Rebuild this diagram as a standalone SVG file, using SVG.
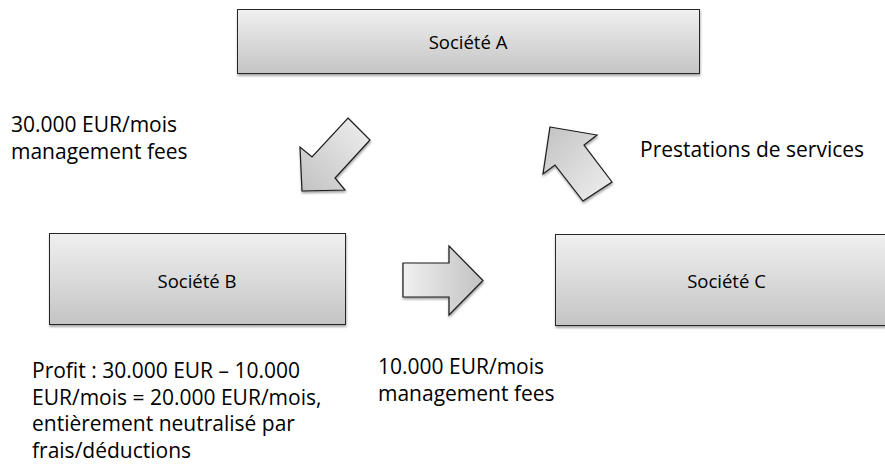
<svg xmlns="http://www.w3.org/2000/svg" width="885" height="469" viewBox="0 0 885 469">
<style>
  .box { fill: url(#boxGrad); stroke: #262626; stroke-width: 1; filter: url(#shadow); }
  .arrow { stroke: #1a1a1a; stroke-width: 1.2; stroke-linejoin: miter; filter: url(#shadow); }
  .boxText { font-family: "Open Sans", "Liberation Sans", sans-serif; font-size: 18.5px; fill: #000; text-anchor: middle; }
  .label { font-family: "Open Sans", "Liberation Sans", sans-serif; font-size: 21px; fill: #000; }
</style>
<defs>
  <linearGradient id="boxGrad" x1="0" y1="0" x2="0" y2="1">
    <stop offset="0" stop-color="#f0f0f0"/>
    <stop offset="1" stop-color="#c4c4c4"/>
  </linearGradient>
  <linearGradient id="gradDL" x1="1" y1="0" x2="0" y2="1">
    <stop offset="0" stop-color="#f0f0f0"/>
    <stop offset="1" stop-color="#c2c2c2"/>
  </linearGradient>
  <linearGradient id="gradUL" x1="1" y1="1" x2="0" y2="0">
    <stop offset="0" stop-color="#f0f0f0"/>
    <stop offset="1" stop-color="#c2c2c2"/>
  </linearGradient>
  <linearGradient id="gradR" x1="0" y1="0" x2="1" y2="0">
    <stop offset="0" stop-color="#f0f0f0"/>
    <stop offset="1" stop-color="#c2c2c2"/>
  </linearGradient>
  <filter id="shadow" x="-10%" y="-10%" width="120%" height="130%">
    <feDropShadow dx="0.5" dy="2" stdDeviation="1.2" flood-color="#000" flood-opacity="0.35"/>
  </filter>
</defs>

<g id="societe-a">
  <rect class="box" x="237.5" y="9.5" width="462" height="64"/>
  <text class="boxText" x="468" y="49">Société A</text>
</g>
<g id="societe-b">
  <rect class="box" x="49.5" y="233.5" width="296" height="91"/>
  <text class="boxText" x="197" y="288">Société B</text>
</g>
<g id="societe-c">
  <rect class="box" x="555.5" y="234.5" width="344" height="91"/>
  <text class="boxText" x="726.5" y="288">Société C</text>
</g>

<g id="connectors">
  <polygon class="arrow" fill="url(#gradDL)" points="348,118 370,140 335,178 345,190 302,191 300,147 312,157"/>
  <polygon class="arrow" fill="url(#gradUL)" points="550,127 597,135 584,145 612,182 583,201 555,165 543,174"/>
  <polygon class="arrow" fill="url(#gradR)" points="403,263 449,263 449,246 483,280.5 449,315 449,297 403,297"/>
</g>

<g id="labels">
  <text class="label" x="11" y="132">30.000 EUR/mois</text>
  <text class="label" x="11" y="159">management fees</text>
  <text class="label" x="640" y="157">Prestations de services</text>
  <text class="label" x="378" y="374">10.000 EUR/mois</text>
  <text class="label" x="378" y="401">management fees</text>
  <text class="label" x="32" y="378">Profit : 30.000 EUR – 10.000</text>
  <text class="label" x="32" y="405">EUR/mois = 20.000 EUR/mois,</text>
  <text class="label" x="32" y="431">entièrement neutralisé par</text>
  <text class="label" x="32" y="458">frais/déductions</text>
</g>
</svg>
